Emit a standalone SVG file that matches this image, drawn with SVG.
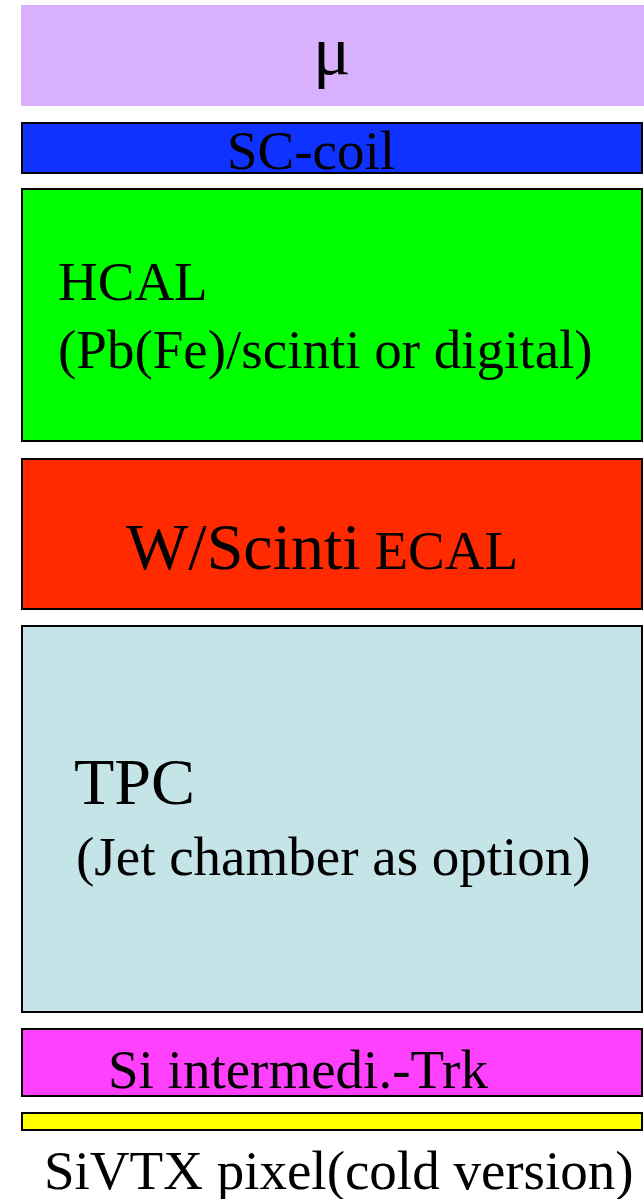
<svg xmlns="http://www.w3.org/2000/svg" width="644" height="1199" viewBox="0 0 644 1199">
  <style>
    .layer { stroke: #000; stroke-width: 2; }
    .lbl { font-family: "Liberation Serif", serif; fill: #000; font-size: 55px; }
    .big { font-size: 66px; }
    .mu { font-size: 70px; }
  </style>
  <rect width="644" height="1199" fill="#fff"/>

  <!-- muon system -->
  <g id="muon">
    <rect x="21" y="5" width="623" height="101" fill="#d8b0fe"/>
    <text class="lbl mu" x="313" y="74">μ</text>
  </g>

  <!-- superconducting coil -->
  <g id="sc-coil">
    <rect class="layer" x="22" y="123" width="620" height="50" fill="#0f32ff"/>
    <text class="lbl" x="227" y="169">SC-coil</text>
  </g>

  <!-- hadron calorimeter -->
  <g id="hcal">
    <rect class="layer" x="22" y="189" width="620" height="252" fill="#00ff00"/>
    <text class="lbl" x="58" y="300">HCAL</text>
    <text class="lbl" x="58" y="368">(Pb(Fe)/scinti or digital)</text>
  </g>

  <!-- electromagnetic calorimeter -->
  <g id="ecal">
    <rect class="layer" x="22" y="459" width="620" height="150" fill="#ff2a00"/>
    <text class="lbl" x="126" y="569"><tspan class="big">W/Scinti</tspan> ECAL</text>
  </g>

  <!-- central tracker -->
  <g id="tpc">
    <rect class="layer" x="22" y="626" width="620" height="386" fill="#c5e4e8"/>
    <text class="lbl big" x="74" y="804">TPC</text>
    <text class="lbl" x="76" y="875">(Jet chamber as option)</text>
  </g>

  <!-- intermediate silicon tracker -->
  <g id="si-trk">
    <rect class="layer" x="22" y="1029" width="620" height="67" fill="#ff40ff"/>
    <text class="lbl" x="108" y="1088">Si intermedi.-Trk</text>
  </g>

  <!-- vertex detector -->
  <g id="vtx">
    <rect class="layer" x="22" y="1113" width="620" height="17" fill="#ffff00"/>
    <text class="lbl" x="44" y="1189">SiVTX pixel(cold version)</text>
  </g>

  <g id="connectors"/>
</svg>
